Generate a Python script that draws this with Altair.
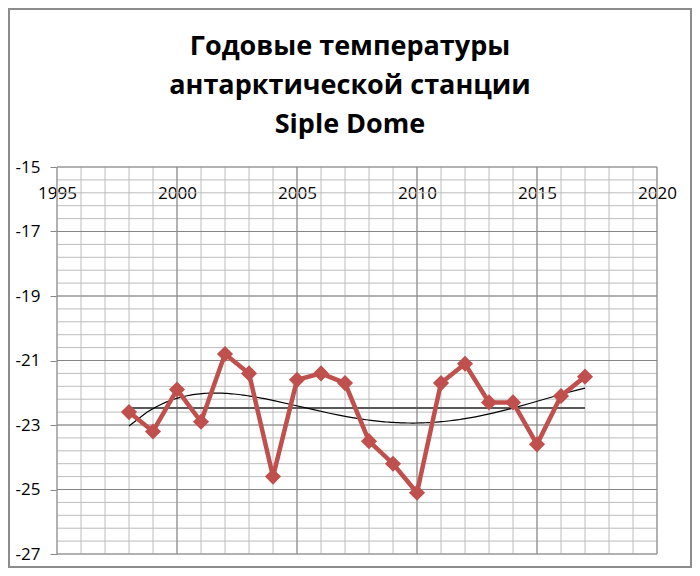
import altair as alt
import pandas as pd

# ---- data ----
years = list(range(1998, 2018))
temps = [-22.6, -23.2, -21.9, -22.9, -20.8, -21.4, -24.6, -21.6, -21.4, -21.7,
         -23.5, -24.2, -25.1, -21.7, -21.1, -22.3, -22.3, -23.6, -22.1, -21.5]

x_major = [1995, 2000, 2005, 2010, 2015, 2020]
x_minor = list(range(1995, 2021))
y_major = [-27, -25, -23, -21, -19, -17, -15]
y_minor = [round(-27 + 0.4 * k, 1) for k in range(31)]

title_lines = ["Годовые температуры", "антарктической станции", "Siple Dome"]

df = pd.DataFrame({"year": years, "temp": temps})
one = pd.DataFrame({"k": [0]})

W, H = 600, 387
XS = alt.Scale(domain=[1995, 2020], nice=False, zero=False)
YS = alt.Scale(domain=[-27, -15], nice=False, zero=False)
RED = "#C0504D"
FONT = "Open Sans"

XAXIS = alt.Axis(orient="top", values=x_major, labelExpr="'' + datum.value",
                 tickSize=0, domain=False, grid=False, labelPadding=-26,
                 labelBaseline="middle", labelFlush=False, labelFontSize=17,
                 labelFont=FONT, labelColor="black", title=None)
YAXIS = alt.Axis(values=y_major, labelExpr="'' + datum.value",
                 tickSize=7, tickColor="#868686", domain=False, grid=False,
                 labelPadding=10, labelFlush=False, labelFontSize=17, labelFont=FONT,
                 labelColor="black", title=None)

# axes carried by the first layer
base_axes = alt.Chart(df).mark_point(opacity=0).encode(
    x=alt.X("year:Q", scale=XS, axis=XAXIS),
    y=alt.Y("temp:Q", scale=YS, axis=YAXIS),
)

vminor = alt.Chart(pd.DataFrame({"v": x_minor})).mark_rule(color="#BDBDBD", strokeWidth=1).encode(
    x=alt.X("v:Q", scale=XS, title=None))
hminor = alt.Chart(pd.DataFrame({"v": y_minor})).mark_rule(color="#BDBDBD", strokeWidth=1).encode(
    y=alt.Y("v:Q", scale=YS, title=None))
vmajor = alt.Chart(pd.DataFrame({"v": x_major})).mark_rule(color="#868686", strokeWidth=1).encode(
    x=alt.X("v:Q", scale=XS, title=None))
hmajor = alt.Chart(pd.DataFrame({"v": y_major})).mark_rule(color="#868686", strokeWidth=1).encode(
    y=alt.Y("v:Q", scale=YS, title=None))

mean_line = alt.Chart(df).mark_rule(color="#595959", strokeWidth=2).encode(
    x=alt.X("min(year):Q", scale=XS, title=None),
    x2="max(year):Q",
    y=alt.Y("mean(temp):Q", scale=YS, title=None),
)

trend = alt.Chart(df).transform_regression(
    "year", "temp", method="poly", order=4, extent=[1998, 2017]
).mark_line(color="black", strokeWidth=1.2).encode(
    x=alt.X("year:Q", scale=XS, title=None),
    y=alt.Y("temp:Q", scale=YS, title=None),
)

line = alt.Chart(df).mark_line(color=RED, strokeWidth=4.5).encode(
    x=alt.X("year:Q", scale=XS, title=None),
    y=alt.Y("temp:Q", scale=YS, title=None),
)
points = alt.Chart(df).mark_point(shape="diamond", filled=True, size=260, color=RED, opacity=1).encode(
    x=alt.X("year:Q", scale=XS, title=None),
    y=alt.Y("temp:Q", scale=YS, title=None),
)

title = alt.Chart(one).mark_text(
    font=FONT, fontSize=27, fontWeight="bold", color="black",
    align="center", baseline="alphabetic", lineHeight=39,
).encode(x=alt.value(293), y=alt.value(-112), text=alt.value(title_lines))

border = alt.Chart(one).mark_rect(filled=False, stroke="#8C8C8C", strokeWidth=2).encode(
    x=alt.value(-48), x2=alt.value(634), y=alt.value(-158), y2=alt.value(400))

chart = alt.layer(
    base_axes, vminor, hminor, vmajor, hmajor, mean_line, trend,
    line, points, title, border
).properties(
    width=W, height=H,
    autosize=alt.AutoSizeParams(type="none"),
    padding={"left": 49, "top": 159, "right": 35, "bottom": 14},
).configure_view(stroke=None)

chart.save("out.html", embed_options={"renderer": "svg", "actions": False})
